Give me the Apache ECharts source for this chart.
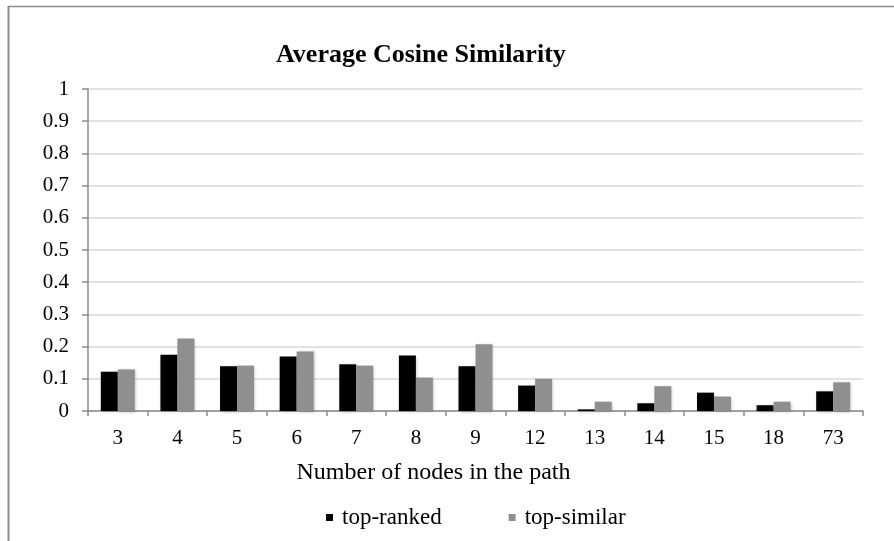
<!DOCTYPE html>
<html>
<head>
<meta charset="utf-8">
<script src="https://cdn.jsdelivr.net/npm/echarts@6/dist/echarts.min.js"></script>
<style>
  html, body { margin: 0; padding: 0; background: #fff; }
  #chart { width: 894px; height: 541px; }
</style>
</head>
<body>
<div id="chart"></div>
<script>
// Path lengths (number of nodes) on the x axis
const categories = ['3', '4', '5', '6', '7', '8', '9', '12', '13', '14', '15', '18', '73'];
// Average cosine similarity per path length
const topRanked  = [0.122, 0.175, 0.139, 0.169, 0.145, 0.172, 0.139, 0.079, 0.005, 0.024, 0.057, 0.018, 0.061];
const topSimilar = [0.129, 0.225, 0.141, 0.185, 0.141, 0.104, 0.207, 0.100, 0.029, 0.077, 0.045, 0.029, 0.089];
const seriesNames = ['top-ranked', 'top-similar'];

const serif = '"Liberation Serif", "Times New Roman", serif';
const chart = echarts.init(document.getElementById('chart'), null, { renderer: 'canvas' });

chart.setOption({
  animation: false,
  backgroundColor: '#ffffff',
  title: {
    text: 'Average Cosine Similarity',
    left: 271,
    top: 37,
    textStyle: { fontFamily: serif, fontWeight: 'bold', fontSize: 26, color: '#000' }
  },
  graphic: [
    { type: 'line', shape: { x1: 8, y1: 6.5, x2: 894, y2: 6.5 }, style: { stroke: '#8c8c8c', lineWidth: 1.5 } },
    { type: 'line', shape: { x1: 8.5, y1: 6, x2: 8.5, y2: 541 }, style: { stroke: '#8c8c8c', lineWidth: 2 } }
  ],
  legend: {
    data: seriesNames,
    left: 321,
    top: 501,
    itemWidth: 7,
    itemHeight: 7,
    itemGap: 67,
    icon: 'rect',
    textStyle: { fontFamily: serif, fontSize: 23, color: '#000', padding: [0, 0, 0, 4] }
  },
  grid: { left: 88, right: 31, top: 89, bottom: 130, containLabel: false },
  xAxis: {
    type: 'category',
    data: categories,
    name: 'Number of nodes in the path',
    nameLocation: 'middle',
    nameGap: 50,
    // the name sits left of the plot centre; right padding shifts it over
    nameTextStyle: { fontFamily: serif, fontSize: 24, color: '#000', padding: [0, 84, 0, 0] },
    axisLine: { lineStyle: { color: '#8c8c8c', width: 1.5 } },
    axisTick: { show: true, length: 5, lineStyle: { color: '#8c8c8c', width: 1.5 } },
    axisLabel: { fontFamily: serif, fontSize: 21, color: '#000', margin: 17 }
  },
  yAxis: {
    type: 'value',
    min: 0,
    max: 1,
    interval: 0.1,
    axisLine: { show: true, lineStyle: { color: '#8c8c8c', width: 1.5 } },
    axisTick: { show: true, length: 6, lineStyle: { color: '#8c8c8c', width: 1.5 } },
    axisLabel: { fontFamily: serif, fontSize: 21, color: '#000', margin: 19 },
    splitLine: { lineStyle: { color: '#d9d9d9', width: 1.5 } }
  },
  series: [
    {
      name: seriesNames[0],
      type: 'bar',
      data: topRanked,
      barGap: '0%',
      barCategoryGap: '43%',
      itemStyle: { color: '#000000', shadowColor: 'rgba(0,0,0,0.25)', shadowBlur: 3, shadowOffsetX: 1, shadowOffsetY: 1 }
    },
    {
      name: seriesNames[1],
      type: 'bar',
      data: topSimilar,
      barGap: '0%',
      barCategoryGap: '43%',
      itemStyle: { color: '#8f8f8f', shadowColor: 'rgba(0,0,0,0.25)', shadowBlur: 3, shadowOffsetX: 1, shadowOffsetY: 1 }
    }
  ]
});
</script>
</body>
</html>
